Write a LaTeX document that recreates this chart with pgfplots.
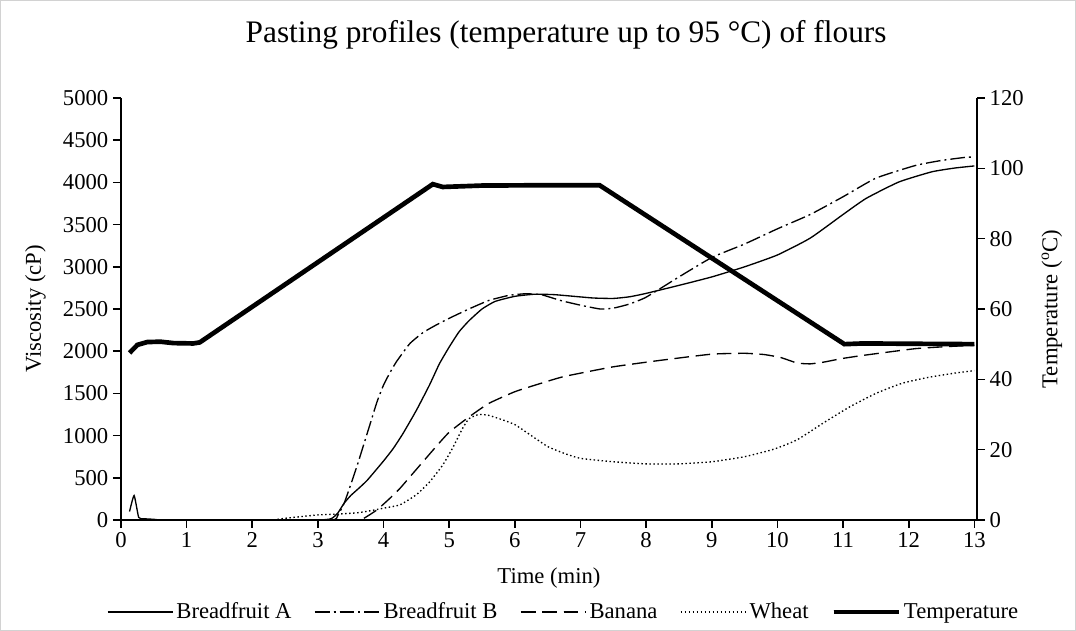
\documentclass[border=0pt]{standalone}
\usepackage{fontspec}
\setmainfont{Liberation Serif}
\usepackage{pgfplots}
\usepackage{pgfplotstable}
\pgfplotsset{compat=1.18}

\pgfplotstableread{
t v
0.13 100
0.2 290
0.27 30
0.35 15
0.5 8
0.6 0
1 0
2 0
3 0
3.2 15
3.3 80
3.4 200
3.5 290
3.6 360
3.75 470
4.0 700
4.15 850
4.3 1030
4.5 1300
4.7 1600
4.85 1850
5.0 2050
5.15 2230
5.3 2360
5.5 2500
5.7 2590
6.0 2650
6.3 2675
6.6 2670
6.9 2650
7.2 2630
7.5 2625
7.75 2645
8.0 2685
8.5 2780
9.0 2880
9.5 3000
10.0 3140
10.5 3340
11.0 3620
11.35 3810
11.85 4005
12.35 4125
12.7 4170
13.0 4195
}\breadA

\pgfplotstableread{
t v
0.13 0
1 0
2 0
3.2 0
3.3 50
3.4 200
3.5 420
3.6 650
3.7 900
3.8 1150
3.9 1400
4.0 1600
4.1 1750
4.2 1880
4.4 2090
4.6 2220
4.8 2310
5.0 2390
5.3 2500
5.6 2600
5.9 2660
6.15 2680
6.4 2670
6.7 2600
7.0 2545
7.3 2500
7.5 2510
7.75 2560
8.0 2640
8.5 2880
9.0 3110
9.5 3270
10.0 3450
10.5 3620
11.0 3830
11.5 4050
12.1 4200
12.5 4260
12.9 4300
13.0 4295
}\breadB

\pgfplotstableread{
t v
0.13 0
1 0
2 0
3 0
3.6 0
3.7 20
3.9 120
4.1 260
4.25 375
4.5 600
4.8 870
5.0 1040
5.3 1220
5.6 1380
6.0 1520
6.4 1620
6.75 1700
7.5 1815
8.25 1895
9.0 1965
9.5 1975
9.8 1960
10.05 1925
10.3 1860
10.5 1850
10.7 1870
11.0 1915
11.35 1955
12.1 2030
12.6 2055
13.0 2070
}\banana

\pgfplotstableread{
t v
0.13 0
1 0
2 0
2.3 0
2.5 20
2.8 45
3.0 60
3.3 70
3.6 85
3.8 110
4.0 140
4.25 180
4.5 300
4.7 450
4.9 650
5.05 850
5.2 1080
5.3 1200
5.45 1250
5.6 1240
5.8 1190
6.0 1130
6.25 1000
6.5 870
6.75 790
7.0 730
7.5 690
8.0 665
8.5 665
9.0 690
9.5 750
9.95 840
10.3 950
10.7 1150
11.1 1340
11.5 1500
11.9 1620
12.3 1690
12.7 1740
13.0 1770
}\wheat

\pgfplotstableread{
t T
0.13 47.5
0.25 49.8
0.4 50.6
0.6 50.7
0.8 50.3
1.1 50.2
1.2 50.5
4.75 95.5
4.9 94.7
5.5 95.1
6.5 95.2
7.29 95.2
11.02 50
11.3 50.2
13.0 50
}\temp

\tikzset{
  sA/.style={black, line width=1pt},
  sB/.style={black, line width=1pt, dash pattern=on 11pt off 3pt on 1.5pt off 3pt},
  sBan/.style={black, line width=1pt, dash pattern=on 11pt off 5pt},
  sW/.style={black, line width=1pt, dash pattern=on 1.1pt off 1.9pt},
  sT/.style={black, line width=3.5pt},
}

\pgfplotsset{
  common/.style={
    scale only axis,
    width=642pt, height=316.5pt,
    at={(90.75pt,83.25pt)}, anchor=south west,
    xmin=0, xmax=13.04,
    tick align=outside,
    major tick length=6pt,
    major tick style={black, line width=1.2pt},
    axis line style={black, line width=1.8pt},
    tick label style={font=\fontsize{17}{20}\selectfont},
    label style={font=\fontsize{17}{20}\selectfont},
    /pgf/number format/assume math mode=true,
    /pgf/number format/1000 sep={},
    clip=false,
  }
}

\begin{document}
\begin{tikzpicture}
\useasboundingbox (0,0) rectangle (807pt,473.25pt);
\draw[gray!35, line width=0.8pt] (0.4pt,0.4pt) rectangle (806.6pt,472.85pt);

\begin{axis}[common,
  axis x line*=bottom, axis y line*=left,
  ymin=0, ymax=5000,
  ytick={0,500,...,5000},
  xtick={0,1,...,13},
  xlabel={Time (min)},
  ylabel={Viscosity (cP)},
  xlabel style={at={(axis description cs:0.5,-0.137)}, anchor=center},
  ylabel style={at={(axis description cs:-0.1,0.5)}, anchor=center},
  title={Pasting profiles (temperature up to 95 \textdegree C) of flours},
  title style={font=\fontsize{23.5}{28}\selectfont, at={(axis description cs:0.52,1.13)}, anchor=center},
]
\addplot[sA, smooth, tension=0.3] table[x=t, y=v] {\breadA};
\addplot[sB, smooth, tension=0.3] table[x=t, y=v] {\breadB};
\addplot[sBan, smooth, tension=0.3] table[x=t, y=v] {\banana};
\addplot[sW, smooth, tension=0.3] table[x=t, y=v] {\wheat};
\end{axis}

\begin{axis}[common,
  axis x line=none, axis y line*=right,
  ymin=0, ymax=120,
  ytick={0,20,...,120},
  ylabel={Temperature (\textsuperscript{o}C)},
  ylabel style={at={(axis description cs:1.0876,0.5)}, anchor=center, rotate=0},
  legend columns=5,
  legend style={draw=none, fill=none, at={(0.5175,-0.218)}, anchor=center,
    font=\fontsize{17}{20}\selectfont,
    /tikz/every even column/.append style={column sep=15pt},
    /tikz/every odd column/.append style={column sep=0pt}},
  legend image code/.code={\draw[#1] (0pt,0pt) -- (44pt,0pt); \path (0pt,0pt) -- (49pt,0pt);},
]
\addlegendimage{sA}
\addlegendentry{Breadfruit A}
\addlegendimage{sB}
\addlegendentry{Breadfruit B}
\addlegendimage{sBan}
\addlegendentry{Banana}
\addlegendimage{sW}
\addlegendentry{Wheat}
\addplot[sT] table[x=t, y=T] {\temp};
\addlegendentry{Temperature}
\end{axis}
\end{tikzpicture}
\end{document}
